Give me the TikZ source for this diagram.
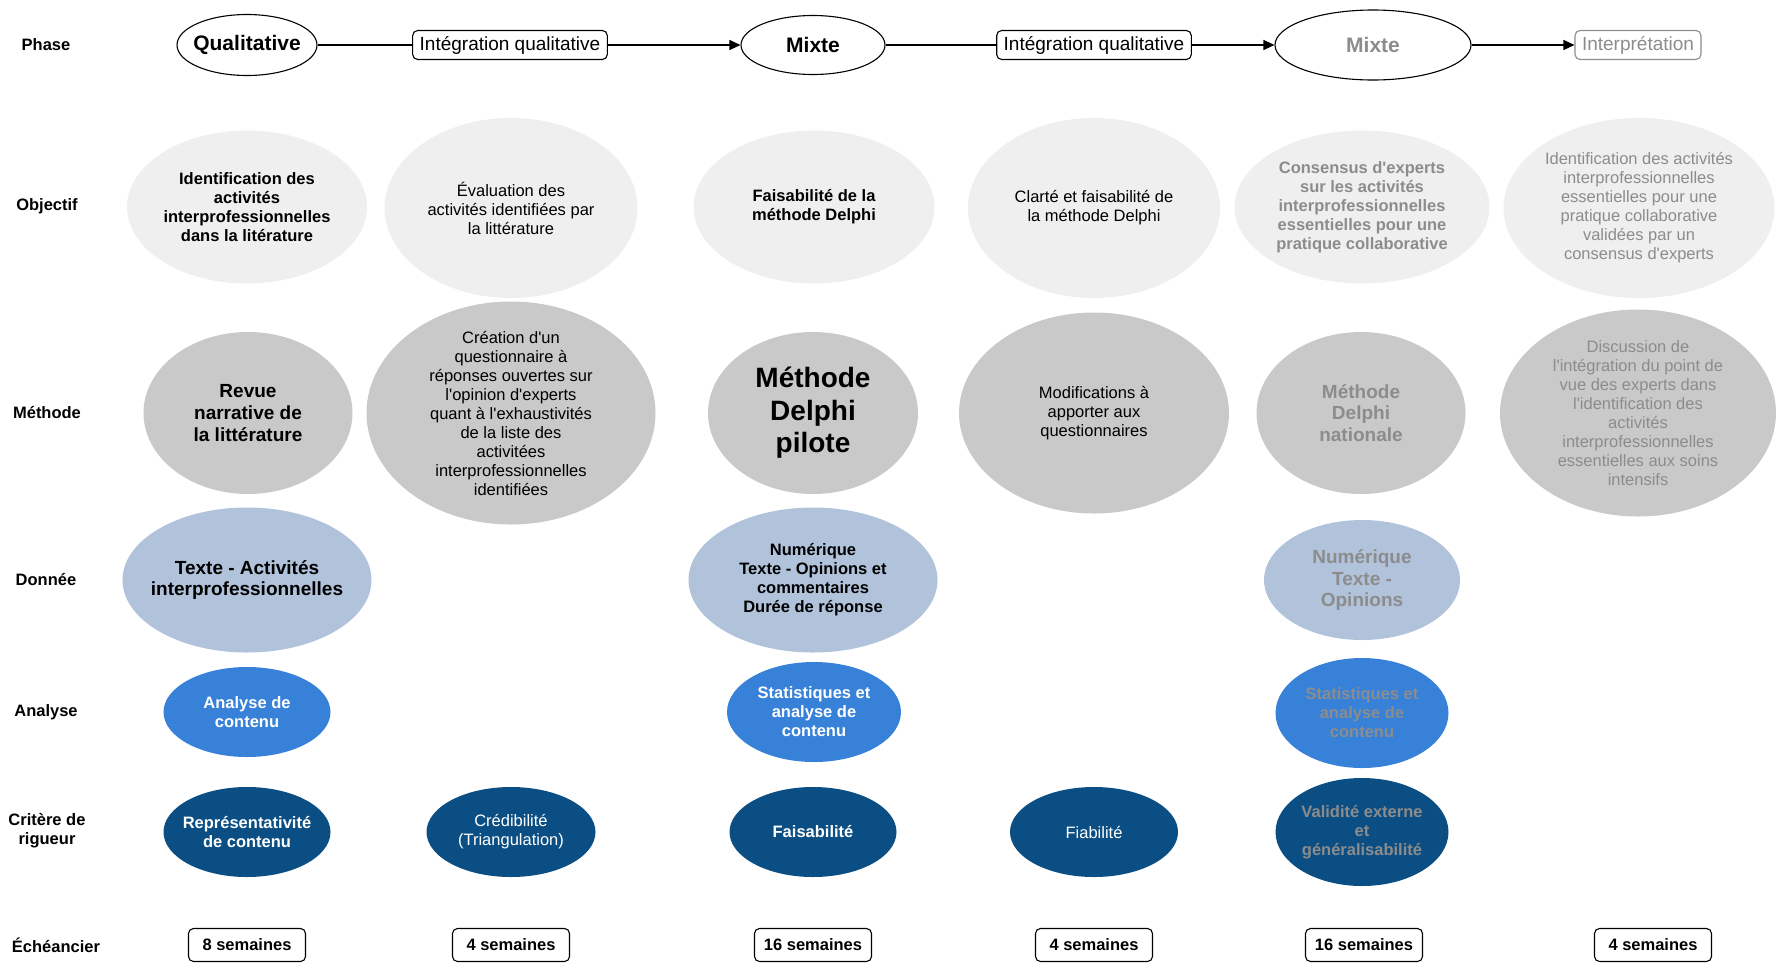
\documentclass[tikz,border=0pt]{standalone}
\usepackage{fontspec}
\setmainfont{Liberation Sans}
\usepackage{xcolor}
\usepackage{tikz}
\usetikzlibrary{arrows.meta,shapes.geometric}
\definecolor{objgray}{HTML}{EFEFEF}
\definecolor{methgray}{HTML}{C9C9C9}
\definecolor{datablue}{HTML}{B1C2DB}
\definecolor{analblue}{HTML}{3782D8}
\definecolor{critblue}{HTML}{0B4E83}
\definecolor{futgray}{HTML}{8C8C8C}
\newcommand{\ap}{\textquotesingle}

\begin{document}
\begin{tikzpicture}[x=1pt, y=-1pt,
      rowlab/.style={font=\fontsize{16.5}{19}\selectfont\bfseries, align=center},
      phell/.style={draw, ellipse, line width=1.1pt, inner sep=-12pt,
                    font=\fontsize{21}{24}\selectfont\bfseries},
      phbox/.style={draw, rounded corners=5pt, line width=1.1pt,
                    minimum height=29pt, inner xsep=7pt, inner ysep=2pt,
                    font=\fontsize{19}{22}\selectfont},
      cell/.style={ellipse, inner sep=-25pt, align=center,
                   font=\fontsize{16.5}{19}\selectfont},
      big/.style={font=\fontsize{19}{21.6}\selectfont\bfseries},
      obj/.style={cell, fill=objgray},
      meth/.style={cell, fill=methgray},
      data/.style={cell, fill=datablue, font=\fontsize{16.5}{19}\selectfont\bfseries},
      anal/.style={cell, fill=analblue, text=white,
                   font=\fontsize{16.5}{19}\selectfont\bfseries},
      crit/.style={cell, fill=critblue, text=white},
      fut/.style={text=futgray},
      week/.style={draw, rounded corners=5pt, line width=1.1pt,
                   minimum width=117pt, minimum height=33pt,
                   font=\fontsize{16.5}{19}\selectfont\bfseries},
      ln/.style={line width=1.1pt},
      arr/.style={-{Triangle[length=11pt,width=10pt]}, line width=1.1pt}
  ]
    \useasboundingbox (0,0) rectangle (1783,962);
    % row labels
    \node[rowlab] (lphase) at (46,45)  {Phase};
    \node[rowlab] (lobj)   at (47,206) {Objectif};
    \node[rowlab] (lmeth)  at (47,413) {Méthode};
    \node[rowlab] (ldata)  at (46,580) {Donnée};
    \node[rowlab] (lanal)  at (46,712) {Analyse};
    \node[rowlab] (lcrit)  at (47,831) {Critère de\\rigueur};
    \node[rowlab] (lweek)  at (56,945) {Échéancier};
    % phases
    \node[phell, minimum width=140pt, minimum height=61pt] (qual) at (247,45) {Qualitative};
    \node[phbox] (int1) at (510,45) {Intégration qualitative};
    \node[phell, minimum width=144pt, minimum height=59pt] (mix1) at (813,45) {Mixte};
    \node[phbox] (int2) at (1094,45) {Intégration qualitative};
    \node[phell, minimum width=196pt, minimum height=70pt, fut] (mix2) at (1373,45) {Mixte};
    \node[phbox, draw=futgray, fut] (interp) at (1638,45) {Interprétation};
    \draw[ln]  (qual)--(int1);
    \draw[arr] (int1)--(mix1);
    \draw[ln]  (mix1)--(int2);
    \draw[arr] (int2)--(mix2);
    \draw[arr] (mix2)--(interp);
    % objectifs
    \node[obj, minimum width=240pt, minimum height=153pt, font=\fontsize{16.5}{19}\selectfont\bfseries] (obj1) at (247,207)
      {Identification des\\activités\\interprofessionnelles\\dans la litérature};
    \node[obj, minimum width=253pt, minimum height=180pt] (obj2) at (511,208)
      {Évaluation des\\activités identifiées par\\la littérature};
    \node[obj, minimum width=241pt, minimum height=153pt, font=\fontsize{16.5}{19}\selectfont\bfseries] (obj3) at (814,207)
      {Faisabilité de la\\méthode Delphi};
    \node[obj, minimum width=252pt, minimum height=180pt] (obj4) at (1094,208)
      {Clarté et faisabilité de\\la méthode Delphi};
    \node[obj, fut, minimum width=255pt, minimum height=153pt, font=\fontsize{16.5}{19}\selectfont\bfseries] (obj5) at (1362,207)
      {Consensus d\ap experts\\sur les activités\\interprofessionnelles\\essentielles pour une\\pratique collaborative};
    \node[obj, fut, minimum width=271pt, minimum height=180pt] (obj6) at (1639,208)
      {Identification des activités\\interprofessionnelles\\essentielles pour une\\pratique collaborative\\validées par un\\consensus d\ap experts};
    % methodes
    \node[meth, big, minimum width=209pt, minimum height=162pt] (meth1) at (248,413)
      {Revue\\narrative de\\la littérature};
    \node[meth, minimum width=289pt, minimum height=223pt] (meth2) at (511,413)
      {Création d\ap un\\questionnaire à\\réponses ouvertes sur\\l\ap opinion d\ap experts\\quant à l\ap exhaustivités\\de la liste des\\activitées\\interprofessionnelles\\identifiées};
    \node[meth, minimum width=210pt, minimum height=162pt, font=\fontsize{28}{32.4}\selectfont\bfseries] (meth3) at (813,413)
      {Méthode\\Delphi\\pilote};
    \node[meth, minimum width=270pt, minimum height=201pt] (meth4) at (1094,413)
      {Modifications à\\apporter aux\\questionnaires};
    \node[meth, big, fut, minimum width=209pt, minimum height=162pt] (meth5) at (1361,413)
      {Méthode\\Delphi\\nationale};
    \node[meth, fut, minimum width=276pt, minimum height=207pt] (meth6) at (1638,413)
      {Discussion de\\l\ap intégration du point de\\vue des experts dans\\l\ap identification des\\activités\\interprofessionnelles\\essentielles aux soins\\intensifs};
    % donnees
    \node[data, big, minimum width=249pt, minimum height=145pt] (data1) at (247,580)
      {Texte - Activités\\interprofessionnelles};
    \node[data, minimum width=249pt, minimum height=145pt] (data3) at (813,580)
      {Numérique\\Texte - Opinions et\\commentaires\\Durée de réponse};
    \node[data, big, fut, minimum width=196pt, minimum height=120pt] (data5) at (1362,580)
      {Numérique\\Texte -\\Opinions};
    % analyses
    \node[anal, minimum width=167pt, minimum height=90pt] (anal1) at (247,712)
      {Analyse de\\contenu};
    \node[anal, minimum width=174pt, minimum height=100pt] (anal3) at (814,712)
      {Statistiques et\\analyse de\\contenu};
    \node[anal, fut, minimum width=173pt, minimum height=110pt] (anal5) at (1362,713)
      {Statistiques et\\analyse de\\contenu};
    % criteres
    \node[crit, minimum width=167pt, minimum height=90pt, font=\fontsize{16.5}{19}\selectfont\bfseries] (crit1) at (247,832)
      {Représentativité\\de contenu};
    \node[crit, minimum width=169pt, minimum height=90pt] (crit2) at (511,832)
      {Crédibilité\\(Triangulation)};
    \node[crit, minimum width=167pt, minimum height=90pt, font=\fontsize{16.5}{19}\selectfont\bfseries] (crit3) at (813,832)
      {Faisabilité};
    \node[crit, minimum width=168pt, minimum height=90pt] (crit4) at (1094,832)
      {Fiabilité};
    \node[crit, fut, minimum width=173pt, minimum height=108pt, font=\fontsize{16.5}{19}\selectfont\bfseries] (crit5) at (1362,832)
      {Validité externe\\et\\généralisabilité};
    % echeancier
    \node[week] (week1) at (247,945)  {8 semaines};
    \node[week] (week2) at (511,945)  {4 semaines};
    \node[week] (week3) at (813,945)  {16 semaines};
    \node[week] (week4) at (1094,945) {4 semaines};
    \node[week] (week5) at (1364,945) {16 semaines};
    \node[week] (week6) at (1653,945) {4 semaines};
  \end{tikzpicture}
\end{document}
